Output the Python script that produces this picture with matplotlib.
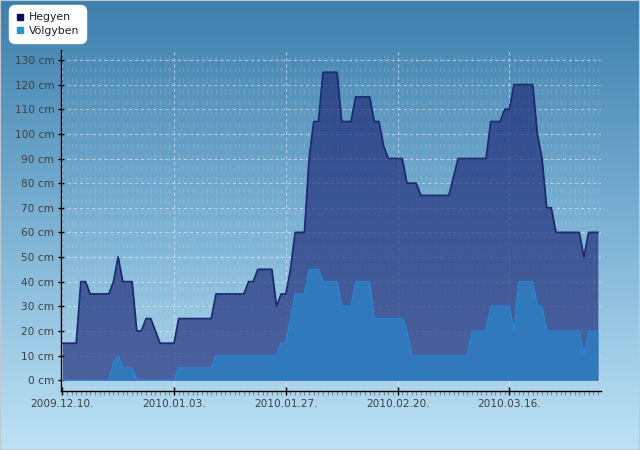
import numpy as np
import pandas as pd
import matplotlib
matplotlib.use('Agg')
import matplotlib.pyplot as plt
import matplotlib.dates as mdates
from matplotlib.lines import Line2D
from matplotlib.patches import Rectangle
from matplotlib.colors import LinearSegmentedColormap

# data (daily snow depth, cm)
start_date = '2009-12-10'
hegyen = [15, 15, 15, 15, 40, 40, 35, 35, 35, 35,
          35, 40, 50, 40, 40, 40, 20, 20, 25, 25,
          20, 15, 15, 15, 15, 25, 25, 25, 25, 25,
          25, 25, 25, 35, 35, 35, 35, 35, 35, 35,
          40, 40, 45, 45, 45, 45, 30, 35, 35, 45,
          60, 60, 60, 90, 105, 105, 125, 125, 125, 125,
          105, 105, 105, 115, 115, 115, 115, 105, 105, 95,
          90, 90, 90, 90, 80, 80, 80, 75, 75, 75,
          75, 75, 75, 75, 82.5, 90, 90, 90, 90, 90,
          90, 90, 105, 105, 105, 110, 110, 120, 120, 120,
          120, 120, 100, 90, 70, 70, 60, 60, 60, 60,
          60, 60, 50, 60, 60, 60]
volgyben = [0, 0, 0, 0, 0, 0, 0, 0, 0, 0,
            0, 7, 10, 5, 5, 5, 0, 0, 0, 0,
            0, 0, 0, 0, 0, 5, 5, 5, 5, 5,
            5, 5, 5, 10, 10, 10, 10, 10, 10, 10,
            10, 10, 10, 10, 10, 10, 10, 15, 15, 25,
            35, 35, 35, 45, 45, 45, 40, 40, 40, 40,
            30, 30, 30, 40, 40, 40, 40, 25, 25, 25,
            25, 25, 25, 25, 20, 10, 10, 10, 10, 10,
            10, 10, 10, 10, 10, 10, 10, 10, 20, 20,
            20, 20, 30, 30, 30, 30, 30, 20, 40, 40,
            40, 40, 30, 30, 20, 20, 20, 20, 20, 20,
            20, 20, 10, 20, 20, 20]
series_names = ['Hegyen', 'Völgyben']
y_ticks = list(range(0, 131, 10))

dates = pd.date_range(start_date, periods=len(hegyen), freq='D')
x = mdates.date2num(dates)

fig = plt.figure(figsize=(6.4, 4.5), dpi=100)

# gradient background over the whole figure
bg = fig.add_axes([0, 0, 1, 1], zorder=-5)
grad_cmap = LinearSegmentedColormap.from_list('bg', ['#3d7fad', '#7cb2d4', '#bde2f5'])
bg.imshow(np.linspace(0, 1, 256).reshape(-1, 1), aspect='auto', cmap=grad_cmap,
          extent=[0, 1, 0, 1], origin='upper')
bg.add_patch(Rectangle((0, 0), 1, 1, transform=bg.transAxes, fill=False,
                       edgecolor='#c4c8cc', lw=1.5))
bg.set_xlim(0, 1)
bg.set_ylim(0, 1)
bg.axis('off')

ax = fig.add_axes([0.0948, 0.1318, 0.8438, 0.7571])
ax.patch.set_alpha(0)

ax.fill_between(x, hegyen, color='#1e2b78', alpha=0.68, lw=0, zorder=2)
ax.plot(x, hegyen, color='#1c2a6e', lw=1.3, zorder=3)
ax.fill_between(x, volgyben, color='#2f79bc', lw=0, zorder=4)
ax.plot(x, volgyben, color='#2a86d2', lw=1.0, zorder=5)

ax.set_xlim(x[0] - 0.34, x[0] + 115.6)
ax.set_ylim(-4.26, 134.06)

ax.set_xticks(x[::24])
ax.set_xticks(x, minor=True)
ax.xaxis.set_major_formatter(mdates.DateFormatter('%Y.%m.%d.'))
ax.set_yticks(y_ticks)
ax.set_yticklabels([f'{v} cm' for v in y_ticks])

ax.set_axisbelow(True)
ax.grid(True, which='major', color='white', alpha=0.5, lw=0.8, linestyle=(0, (3, 2.5)), zorder=1)
ax.grid(True, which='minor', axis='x', color='white', alpha=0.12, lw=0.9,
        linestyle=(0, (4.4, 4.4)), zorder=1)

for side in ['top', 'right']:
    ax.spines[side].set_visible(False)
for side in ['left', 'bottom']:
    ax.spines[side].set_color('black')
    ax.spines[side].set_linewidth(1.0)

ax.tick_params(axis='y', which='major', direction='inout', length=5, width=1,
               color='black', labelsize=7.6, labelcolor='#404040', pad=2)
ax.tick_params(axis='x', which='major', direction='inout', length=6, width=1,
               color='black', labelsize=7.6, labelcolor='#404040', pad=3)
ax.tick_params(axis='x', which='minor', direction='out', length=3, width=0.8, color='#7f8a94')

handles = [Line2D([], [], marker='s', ls='', color='#0b0b5e', ms=4.5),
           Line2D([], [], marker='s', ls='', color='#1e9ad6', ms=4.5)]
leg = fig.legend(handles, series_names, loc='upper left',
                 bbox_to_anchor=(10 / 640, 1 - 6 / 450), borderaxespad=0,
                 frameon=True, fancybox=True, facecolor='white', edgecolor='white',
                 framealpha=1, fontsize=7.8, handlelength=0.7, handletextpad=0.4,
                 borderpad=0.6, labelspacing=0.3)
leg.get_frame().set_boxstyle('round,pad=0.1,rounding_size=0.6')
for t in leg.get_texts():
    t.set_color('#202020')

fig.savefig('out.png', dpi=100)
